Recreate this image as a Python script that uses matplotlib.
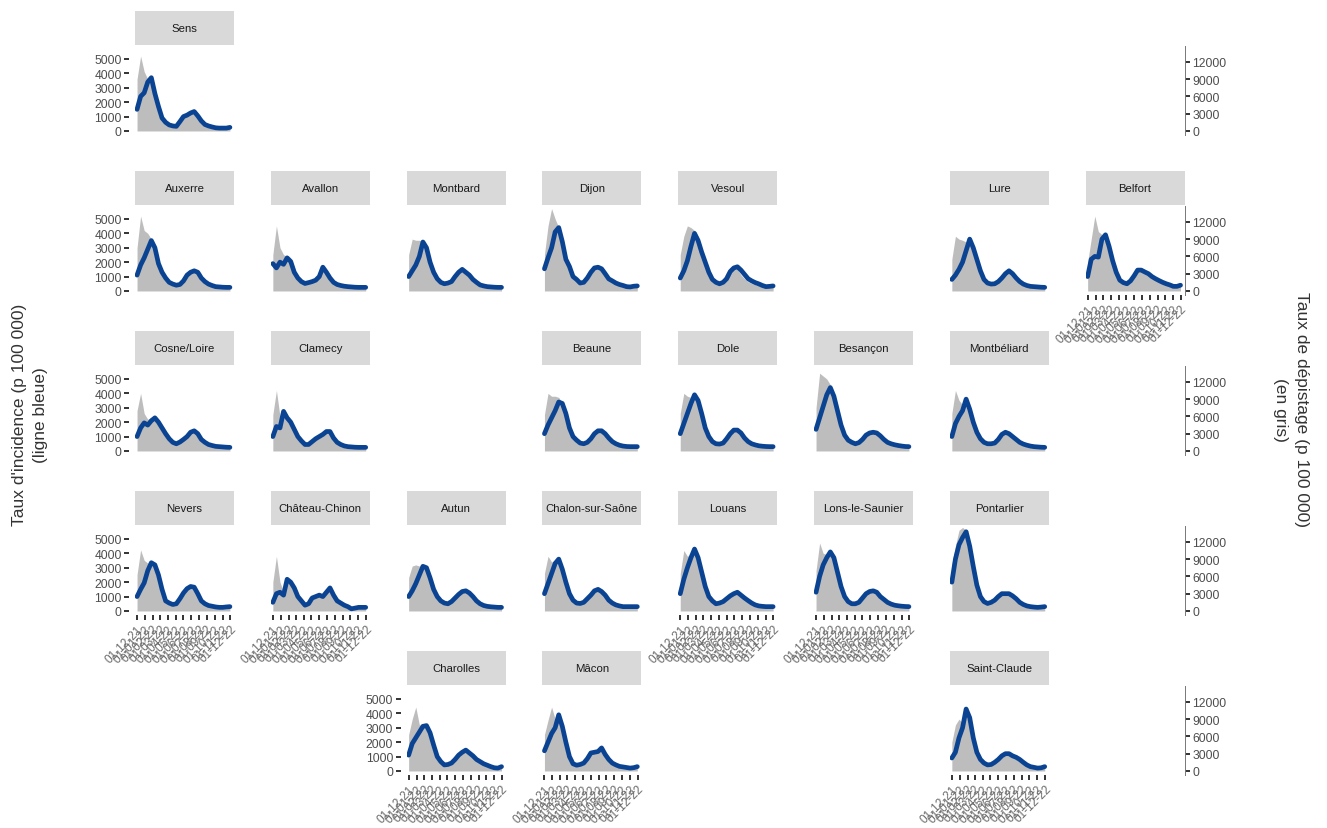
import matplotlib
matplotlib.use("Agg")
import matplotlib.pyplot as plt
import matplotlib.dates as mdates
import numpy as np
import pandas as pd

plt.rcParams['font.family'] = ['Liberation Sans', 'DejaVu Sans']

# Dates (biweekly points)
dates = pd.date_range("2021-12-01", periods=27, freq="14D")

# Geographic grid: commune -> (row, column)
grille = {
    "Sens": (0, 0),
    "Auxerre": (1, 0), "Avallon": (1, 1), "Montbard": (1, 2), "Dijon": (1, 3),
    "Vesoul": (1, 4), "Lure": (1, 6), "Belfort": (1, 7),
    "Cosne/Loire": (2, 0), "Clamecy": (2, 1), "Beaune": (2, 3), "Dole": (2, 4),
    "Besançon": (2, 5), "Montbéliard": (2, 6),
    "Nevers": (3, 0), "Château-Chinon": (3, 1), "Autun": (3, 2),
    "Chalon-sur-Saône": (3, 3), "Louans": (3, 4), "Lons-le-Saunier": (3, 5),
    "Pontarlier": (3, 6),
    "Charolles": (4, 2), "Mâcon": (4, 3), "Saint-Claude": (4, 6),
}

# Incidence rate (per 100 000)
incidence = {
    "Sens": [1500, 2400, 2650, 3400, 3700, 2600, 1700, 900, 600, 420, 350, 320, 650, 1000, 1100, 1250, 1350, 1050, 700, 450, 350, 280, 220, 200, 200, 200, 250],
    "Auxerre": [1100, 1800, 2300, 2900, 3500, 3000, 1900, 1300, 900, 600, 480, 400, 450, 700, 1100, 1300, 1400, 1300, 900, 650, 480, 380, 300, 280, 260, 250, 250],
    "Avallon": [1900, 1600, 2000, 1850, 2300, 2050, 1300, 900, 650, 520, 580, 650, 750, 1000, 1650, 1300, 900, 600, 450, 380, 330, 300, 280, 260, 250, 250, 250],
    "Montbard": [1000, 1400, 1800, 2400, 3400, 3000, 2000, 1300, 850, 600, 500, 550, 650, 1000, 1300, 1500, 1300, 1100, 800, 600, 420, 350, 300, 280, 260, 250, 250],
    "Dijon": [1540, 2300, 3000, 4100, 4400, 3430, 2200, 1700, 1000, 800, 550, 600, 900, 1300, 1600, 1650, 1540, 1200, 840, 700, 550, 450, 380, 300, 280, 330, 350],
    "Vesoul": [900, 1400, 2100, 3100, 4000, 3500, 2700, 2000, 1300, 800, 600, 500, 600, 850, 1350, 1600, 1680, 1450, 1150, 850, 700, 580, 490, 380, 300, 320, 350],
    "Lure": [800, 1100, 1500, 2000, 2800, 3600, 3000, 2200, 1400, 800, 550, 480, 500, 650, 900, 1200, 1400, 1200, 900, 650, 480, 380, 320, 300, 280, 260, 250],
    "Belfort": [1000, 2200, 2400, 2350, 3600, 3900, 3100, 2100, 1300, 750, 580, 500, 700, 1050, 1450, 1450, 1320, 1200, 1000, 850, 720, 600, 500, 420, 320, 320, 400],
    "Cosne/Loire": [1000, 1600, 1950, 1800, 2100, 2300, 2000, 1600, 1200, 850, 600, 500, 620, 800, 1000, 1300, 1400, 1200, 800, 600, 450, 380, 320, 300, 280, 260, 250],
    "Clamecy": [1000, 1700, 1600, 2750, 2300, 2000, 1500, 1000, 700, 450, 450, 650, 850, 1000, 1150, 1350, 1350, 900, 600, 450, 350, 300, 280, 260, 250, 250, 250],
    "Beaune": [1200, 1800, 2300, 2800, 3400, 3300, 2600, 1600, 1000, 750, 550, 500, 600, 850, 1200, 1400, 1400, 1200, 900, 650, 500, 400, 340, 310, 300, 300, 300],
    "Dole": [1200, 1900, 2600, 3300, 3900, 3500, 2600, 1600, 1000, 650, 500, 480, 550, 850, 1200, 1450, 1450, 1250, 900, 650, 500, 420, 360, 330, 310, 300, 300],
    "Besançon": [1500, 2300, 3100, 3900, 4400, 3800, 2800, 1800, 1100, 750, 600, 500, 580, 800, 1100, 1250, 1300, 1250, 1050, 800, 600, 500, 430, 380, 340, 310, 300],
    "Montbéliard": [1000, 1900, 2400, 2800, 3600, 2900, 2000, 1300, 850, 600, 500, 500, 550, 800, 1150, 1300, 1200, 1000, 800, 600, 480, 400, 340, 300, 280, 260, 250],
    "Nevers": [1000, 1500, 1950, 2800, 3350, 3200, 2500, 1500, 700, 550, 450, 500, 850, 1250, 1550, 1700, 1650, 1200, 700, 500, 380, 330, 280, 250, 250, 280, 300],
    "Château-Chinon": [600, 1200, 1300, 1100, 2200, 2000, 1600, 1000, 700, 400, 500, 900, 1000, 1100, 1000, 1300, 1600, 1100, 700, 550, 400, 300, 150, 200, 250, 250, 250],
    "Autun": [1000, 1400, 1900, 2500, 3100, 3000, 2300, 1500, 1000, 700, 550, 500, 650, 900, 1150, 1350, 1400, 1250, 1000, 700, 500, 380, 320, 290, 270, 250, 250],
    "Chalon-sur-Saône": [1200, 1900, 2600, 3300, 3600, 2900, 2000, 1200, 750, 550, 520, 600, 850, 1100, 1400, 1500, 1350, 1100, 750, 550, 420, 350, 300, 300, 300, 300, 300],
    "Louans": [1200, 2200, 3000, 3700, 4300, 3700, 2700, 1700, 1000, 700, 500, 550, 650, 850, 1050, 1200, 1300, 1100, 900, 720, 550, 420, 350, 320, 300, 300, 300],
    "Lons-le-Saunier": [1300, 2400, 3200, 3700, 4100, 3700, 2700, 1700, 1000, 650, 500, 500, 600, 900, 1200, 1350, 1400, 1300, 1000, 800, 600, 480, 400, 360, 330, 310, 300],
    "Pontarlier": [2000, 3600, 4600, 5100, 5500, 4500, 3100, 1800, 1000, 650, 520, 600, 750, 1000, 1200, 1200, 1200, 1050, 850, 600, 450, 350, 300, 270, 250, 270, 300],
    "Charolles": [1100, 1900, 2300, 2700, 3100, 3150, 2650, 1800, 1000, 650, 420, 450, 550, 800, 1100, 1300, 1450, 1250, 1050, 800, 650, 500, 400, 300, 220, 200, 300],
    "Mâcon": [1400, 2000, 2600, 3000, 3900, 3100, 2000, 1000, 500, 400, 450, 550, 850, 1250, 1300, 1350, 1600, 1150, 800, 550, 420, 320, 280, 240, 200, 230, 300],
    "Saint-Claude": [900, 1300, 2300, 3000, 4300, 3700, 2300, 1300, 800, 550, 420, 450, 600, 800, 1050, 1200, 1200, 1050, 950, 800, 600, 420, 300, 250, 200, 220, 300],
}

# Screening rate (per 100 000)
depistage = {
    "Sens": [9000, 13000, 10300, 9000, 8500, 6800, 4500, 2800, 1800, 1300, 1100, 1000, 1500, 2300, 2600, 3000, 3100, 2500, 1800, 1300, 1000, 900, 800, 750, 750, 750, 750],
    "Auxerre": [7500, 13000, 10500, 10000, 9000, 7300, 4800, 3000, 2000, 1400, 1100, 1000, 1300, 2000, 3000, 3500, 3800, 3400, 2500, 1800, 1300, 1000, 900, 800, 750, 750, 750],
    "Avallon": [6300, 11300, 7500, 6300, 6000, 5300, 3500, 2500, 1800, 1500, 1600, 1800, 2100, 2800, 4500, 3500, 2500, 1800, 1300, 1100, 950, 900, 800, 750, 750, 750, 750],
    "Montbard": [6300, 9000, 8800, 8800, 8500, 7000, 4800, 3000, 2100, 1600, 1400, 1500, 1800, 2500, 3300, 3800, 3500, 3000, 2300, 1600, 1300, 1100, 950, 900, 850, 800, 800],
    "Dijon": [6300, 11300, 14300, 12500, 11000, 8800, 6500, 4000, 2500, 1800, 1400, 1800, 2500, 3500, 4300, 4300, 3500, 2500, 1900, 1500, 1300, 1100, 950, 900, 900, 900, 950],
    "Vesoul": [6300, 9500, 11300, 11000, 10500, 9300, 7000, 4500, 2800, 1800, 1400, 1500, 2100, 3300, 4000, 4300, 3800, 2800, 2100, 1600, 1300, 1100, 900, 850, 850, 850, 900],
    "Lure": [5500, 9500, 9000, 8800, 8500, 8800, 7300, 5300, 3500, 2100, 1500, 1400, 1500, 1900, 2500, 3300, 3600, 3300, 2500, 1900, 1400, 1100, 1000, 950, 900, 900, 900],
    "Belfort": [5000, 9000, 13000, 10300, 9800, 10000, 8300, 5800, 3300, 2100, 1600, 1500, 1800, 2600, 3800, 3800, 3500, 3100, 2800, 2400, 2000, 1600, 1400, 1300, 1100, 1100, 1300],
    "Cosne/Loire": [7000, 10000, 6500, 5500, 5800, 6000, 5500, 4500, 3300, 2400, 1800, 1400, 1500, 1900, 2600, 3100, 3600, 3300, 2400, 1800, 1300, 1100, 900, 850, 800, 800, 750],
    "Clamecy": [6300, 10500, 6000, 7300, 6300, 5300, 4000, 2800, 2000, 1400, 1300, 1800, 2300, 2600, 3000, 3500, 3500, 2400, 1600, 1200, 1000, 900, 800, 750, 750, 750, 750],
    "Beaune": [6300, 10000, 9500, 9500, 9300, 8300, 6500, 4300, 2800, 2000, 1500, 1400, 1600, 2300, 3100, 3600, 3600, 3100, 2400, 1800, 1400, 1100, 1000, 900, 900, 900, 900],
    "Dole": [6500, 10000, 9500, 9300, 9800, 8800, 6500, 4300, 2800, 1900, 1500, 1400, 1600, 2300, 3100, 3800, 3800, 3300, 2500, 1900, 1500, 1200, 1100, 950, 900, 900, 900],
    "Besançon": [7500, 13500, 13000, 12500, 11500, 9800, 7300, 4800, 3000, 2100, 1700, 1500, 1700, 2300, 3000, 3400, 3500, 3400, 2900, 2300, 1800, 1500, 1300, 1100, 1100, 1000, 1000],
    "Montbéliard": [6500, 10500, 8800, 8000, 9000, 7500, 5300, 3500, 2400, 1800, 1500, 1400, 1600, 2100, 3000, 3400, 3300, 2800, 2300, 1800, 1400, 1200, 1100, 950, 900, 900, 900],
    "Nevers": [6300, 10600, 8800, 8300, 8500, 8000, 6000, 3800, 2000, 1500, 1300, 1400, 2300, 3300, 4000, 4400, 4300, 3100, 1900, 1400, 1100, 900, 850, 750, 750, 750, 750],
    "Château-Chinon": [5000, 9500, 5000, 3300, 5300, 5000, 4000, 2800, 1900, 1300, 1400, 2300, 2500, 2800, 2600, 3300, 3800, 2800, 2300, 1800, 1300, 1000, 750, 750, 750, 750, 750],
    "Autun": [5800, 7800, 8000, 7800, 7800, 7300, 5500, 3800, 2500, 1900, 1500, 1400, 1800, 2400, 3000, 3500, 3600, 3300, 2600, 1900, 1400, 1100, 1000, 900, 900, 850, 850],
    "Chalon-sur-Saône": [6500, 9500, 8500, 8800, 8800, 7300, 5000, 3300, 2100, 1600, 1500, 1700, 2300, 2900, 3600, 3900, 3500, 2900, 2000, 1500, 1200, 1000, 900, 900, 850, 850, 850],
    "Louans": [6500, 10500, 9500, 9800, 10500, 9300, 6800, 4300, 2600, 1900, 1500, 1500, 1800, 2300, 2800, 3100, 3400, 3000, 2500, 2000, 1600, 1300, 1100, 1000, 950, 900, 900],
    "Lons-le-Saunier": [7000, 11800, 10000, 9800, 10300, 9300, 6800, 4400, 2600, 1800, 1400, 1400, 1700, 2400, 3100, 3500, 3600, 3400, 2600, 2100, 1600, 1300, 1100, 1000, 950, 900, 900],
    "Pontarlier": [8000, 11300, 14000, 14500, 14000, 11500, 8000, 4800, 2800, 1900, 1500, 1600, 2000, 2600, 3100, 3100, 3100, 2800, 2300, 1700, 1300, 1100, 950, 900, 850, 850, 900],
    "Charolles": [6300, 9000, 11100, 8000, 7800, 7800, 6500, 4500, 2600, 1800, 1200, 1300, 1500, 2100, 2900, 3400, 3800, 3300, 2800, 2100, 1800, 1400, 1100, 950, 800, 750, 800],
    "Mâcon": [6300, 8800, 11100, 9000, 9800, 7500, 4800, 2600, 1500, 1100, 1300, 1500, 2100, 3100, 3300, 3500, 4000, 3100, 2300, 1500, 1200, 1000, 900, 800, 750, 750, 800],
    "Saint-Claude": [5000, 8000, 9000, 8300, 11100, 9300, 5800, 3400, 2100, 1500, 1200, 1300, 1600, 2100, 2800, 3100, 3100, 2800, 2500, 2100, 1600, 1200, 950, 850, 750, 750, 800],
}

left_ticks = [0, 1000, 2000, 3000, 4000, 5000]
right_ticks = [0, 3000, 6000, 9000, 12000]
RATIO = 2.5  # screening axis = incidence axis x 2.5

BLUE = "#0b4393"
GREY_AREA = "#bdbdbd"
STRIP = "#d9d9d9"
TXT = "#4d4d4d"
TICK = "#333333"

W, H = 1327, 829
fig = plt.figure(figsize=(W / 100, H / 100), dpi=100)


def px_axes(x, y, w, h):
    return fig.add_axes([x / W, 1 - (y + h) / H, w / W, h / H])


COL0, COLSTEP, PW = 135, 135.8, 99
ROW0, ROWSTEP, SH, PH = 12, 160, 34, 89
YLIM = (-280, 5900)
XLIM = (dates[0] - pd.Timedelta(days=8), dates[-1] + pd.Timedelta(days=16))

n_rows = max(r for r, c in grille.values()) + 1
first_in_row = {}
lowest_in_col = {}
for name, (r, c) in grille.items():
    if r not in first_in_row or c < grille[first_in_row[r]][1]:
        first_in_row[r] = name
    if c not in lowest_in_col or r > grille[lowest_in_col[c]][0]:
        lowest_in_col[c] = name


def hide_frame(ax):
    for s in ax.spines.values():
        s.set_visible(False)
    ax.set_xticks([])
    ax.set_yticks([])


def add_right_axis(ax):
    sec = ax.secondary_yaxis('right', functions=(lambda v: v * RATIO, lambda v: v / RATIO))
    sec.set_yticks(right_ticks)
    sec.spines['right'].set_color("#777777")
    sec.spines['right'].set_linewidth(0.7)
    sec.tick_params(axis='y', length=3.6, width=1.4, color=TICK,
                    labelsize=8.7, labelcolor=TXT, pad=2)
    return sec


right_axis_rows = set()
for name, (r, c) in grille.items():
    x = COL0 + c * COLSTEP
    ytop = ROW0 + r * ROWSTEP

    strip = px_axes(x, ytop, PW, SH)
    strip.set_facecolor(STRIP)
    hide_frame(strip)
    strip.text(0.5, 0.5, name, ha='center', va='center', fontsize=8.2,
               color="#1a1a1a", transform=strip.transAxes)

    ax = px_axes(x, ytop + SH + 1, PW, PH)
    ax.set_facecolor('none')
    ax.fill_between(dates, np.array(depistage[name]) / RATIO, 0,
                    color=GREY_AREA, lw=0)
    ax.plot(dates, incidence[name], color=BLUE, lw=3.4,
            solid_capstyle='round', solid_joinstyle='round')
    ax.set_ylim(*YLIM)
    ax.set_xlim(*XLIM)
    for s in ax.spines.values():
        s.set_visible(False)

    if first_in_row[r] == name:
        ax.spines['left'].set_position(('outward', 4))
        ax.set_yticks(left_ticks)
        ax.tick_params(axis='y', length=3.6, width=1.4, color=TICK,
                       labelsize=8.7, labelcolor=TXT, pad=2)
    else:
        ax.set_yticks([])

    if lowest_in_col[c] == name:
        ax.xaxis.set_major_locator(mdates.MonthLocator())
        ax.xaxis.set_major_formatter(mdates.DateFormatter('%d-%m-%y'))
        ax.tick_params(axis='x', length=3.6, width=1.4, color=TICK,
                       labelsize=8.5, labelcolor="#6b6b6b", pad=2)
        for lab in ax.get_xticklabels():
            lab.set_rotation(45)
            lab.set_ha('right')
            lab.set_rotation_mode('anchor')
    else:
        ax.set_xticks([])

    if c == 7:
        add_right_axis(ax)
        right_axis_rows.add(r)

# Screening-rate axis on the right of every row
for r in range(n_rows):
    if r in right_axis_rows:
        continue
    x = COL0 + 7 * COLSTEP
    ytop = ROW0 + r * ROWSTEP
    blank = px_axes(x, ytop + SH + 1, PW, PH)
    blank.set_facecolor('none')
    hide_frame(blank)
    blank.set_ylim(*YLIM)
    add_right_axis(blank)

fig.text(30 / W, 1 - 415 / H, "Taux d'incidence (p 100 000)\n(ligne bleue)",
         rotation=90, ha='center', va='center', multialignment='center',
         fontsize=12.5, color="#333333", linespacing=1.5)
fig.text(1291 / W, 1 - 410 / H, "Taux de dépistage (p 100 000)\n(en gris)",
         rotation=270, ha='center', va='center', multialignment='center',
         fontsize=12.5, color="#333333", linespacing=1.5)

fig.savefig("out.png", dpi=100)
